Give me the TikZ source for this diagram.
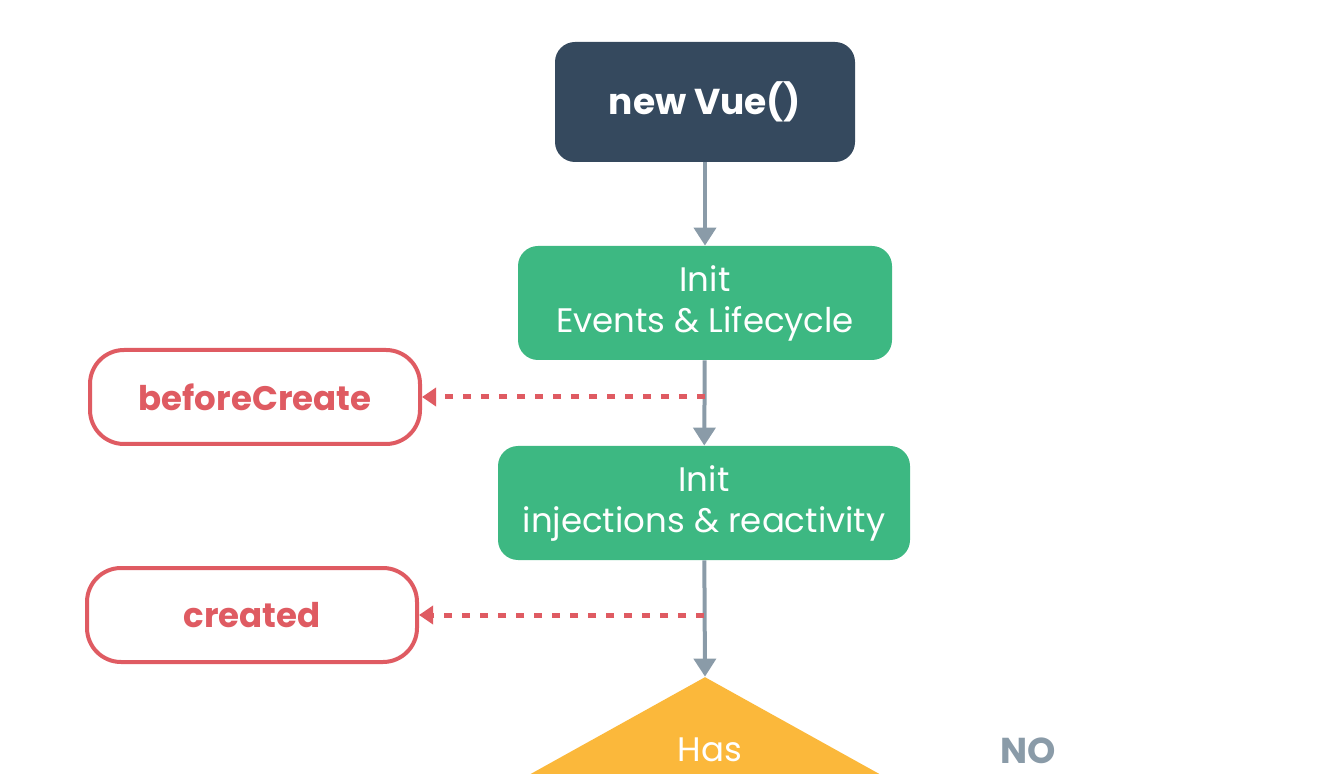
\documentclass[tikz,border=0pt]{standalone}
\usepackage{fontspec}
\setmainfont{Poppins}
\usepackage{xcolor}
\usetikzlibrary{shapes.geometric, arrows.meta, positioning}

\definecolor{vuedark}{HTML}{35495E}
\definecolor{vuegreen}{HTML}{3DB882}
\definecolor{hookred}{HTML}{DF5B62}
\definecolor{flowgray}{HTML}{8A9BA8}
\definecolor{askyellow}{HTML}{FBB83B}

\begin{document}
\begin{tikzpicture}[
    x=0.5pt, y=-0.5pt,
    vuebox/.style={rectangle, rounded corners=10pt, fill=vuedark, text=white, minimum width=150pt, minimum height=60pt, align=center, font=\fontsize{18}{20}\selectfont\bfseries},
    initbox/.style={rectangle, rounded corners=10pt, fill=vuegreen, text=white, minimum height=57pt, align=center, font=\fontsize{17}{20.5}\selectfont},
    hookbox/.style={rectangle, rounded corners=17pt, draw=hookred, line width=2pt, fill=white, text=hookred, minimum width=165pt, minimum height=47pt, align=center, font=\fontsize{17}{20}\selectfont\bfseries},
    decision/.style={diamond, fill=askyellow, inner sep=0pt, minimum width=234pt, minimum height=130pt},
    flow/.style={draw=flowgray, line width=2pt, -{Triangle[width=11pt,length=9pt]}},
    hookline/.style={draw=hookred, line width=2.5pt, dash pattern=on 4pt off 5pt, -{Triangle[width=9pt,length=7pt]}}
]
\useasboundingbox (0,0) rectangle (1332,774);

\node[vuebox] (newvue) at (705,102) {new Vue()};
\node[initbox, minimum width=187pt] (initevents) at (705,303) {Init\\Events \& Lifecycle};
\node[initbox, minimum width=206pt] (initinject) at (704,503) {Init\\injections \& reactivity};
\node[decision] (hasel) at (705,807) {};
\node[text=white, inner sep=0pt, font=\fontsize{17}{20}\selectfont] (hastext) at (710,750) {Has};
\node[text=flowgray, inner sep=0pt, font=\fontsize{18}{20}\selectfont\bfseries] (nolabel) at (1028,751) {NO};

\node[hookbox] (beforecreate) at (255,397) {beforeCreate};
\node[hookbox] (created) at (252,615) {created};

% main flow
\draw[flow] (newvue) -- (initevents);
\draw[flow] (initevents) -- (initinject);
\draw[flow] (initinject) -- (hasel.north);

% hooks
\draw[hookline] (initevents.south |- beforecreate.east) -- (beforecreate.east);
\draw[hookline] (initinject.south |- created.east) -- (created.east);
\end{tikzpicture}
\end{document}
